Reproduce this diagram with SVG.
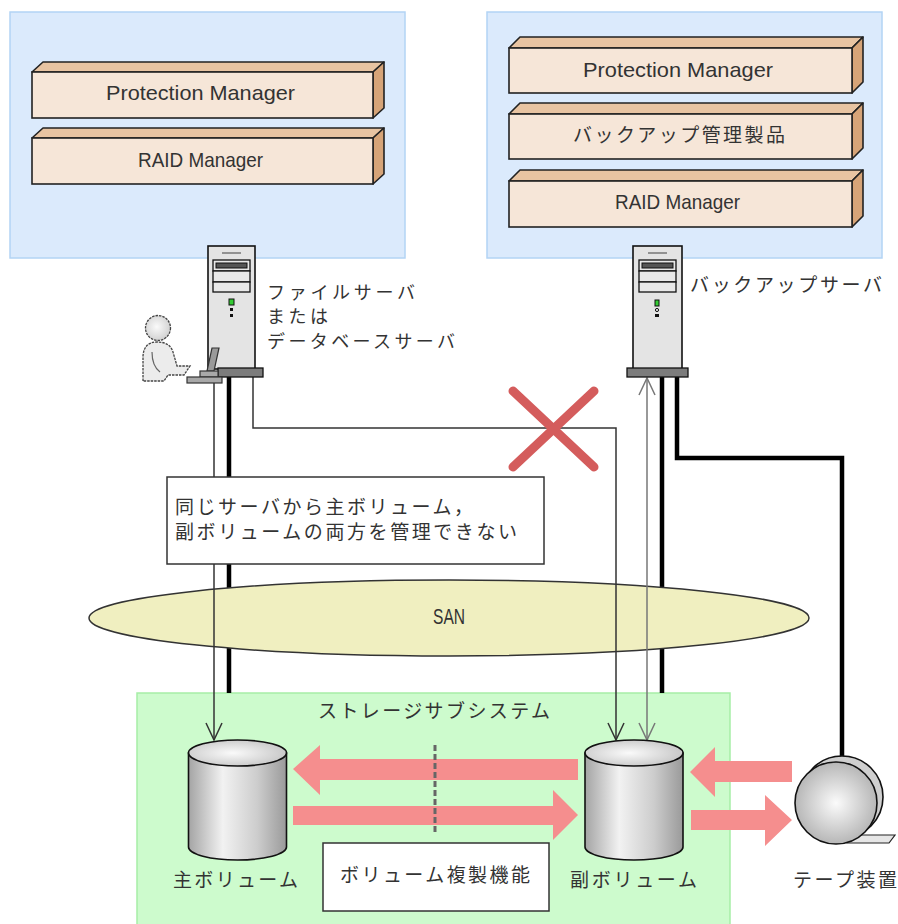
<svg xmlns="http://www.w3.org/2000/svg" width="898" height="924" viewBox="0 0 898 924">
  <defs>
    <style>
      .host { fill: #dbeafc; stroke: #b3d4f5; stroke-width: 1.5; }
      .front { fill: #f6e6d8; stroke: #222; stroke-width: 1.6; }
      .top { fill: #e8c4a2; stroke: #222; stroke-width: 1.6; stroke-linejoin: round; }
      .side { fill: #d6a478; stroke: #222; stroke-width: 1.6; stroke-linejoin: round; }
      .lat { font-family: "Liberation Sans", Arial, sans-serif; font-size: 21px; fill: #333; }
      .san { font-family: "Liberation Sans", Arial, sans-serif; font-size: 22px; fill: #333; }
      .jp { font-family: "Noto Sans CJK JP", "Noto Sans", sans-serif; font-size: 19px; fill: #333; }
      .jp-s { font-family: "Noto Sans CJK JP", "Noto Sans", sans-serif; font-size: 18px; fill: #333; }
      .tower { fill: #e4e4e4; stroke: #111; stroke-width: 1.6; }
      .bay { fill: #e8e8e8; stroke: #111; stroke-width: 1.3; }
      .base { fill: #7c7c7c; stroke: #111; stroke-width: 1.3; }
      .thin { fill: none; stroke: #333; stroke-width: 1.5; }
      .thin-g { fill: none; stroke: #777; stroke-width: 1.5; }
      .thick { fill: none; stroke: #000; stroke-width: 4.5; stroke-linejoin: miter; }
      .copy { fill: #f58e8e; }
      .box { fill: #fff; stroke: #333; stroke-width: 1.5; }
      .cyl { stroke: #111; stroke-width: 1.6; }
    </style>
    <marker id="headDark" viewBox="0 0 20 18" refX="18" refY="9" markerWidth="20" markerHeight="18" markerUnits="userSpaceOnUse" orient="auto-start-reverse">
      <path d="M1,1 L18,9 L1,17" fill="none" stroke="#333" stroke-width="1.5"/>
    </marker>
    <marker id="headGray" viewBox="0 0 20 18" refX="18" refY="9" markerWidth="20" markerHeight="18" markerUnits="userSpaceOnUse" orient="auto-start-reverse">
      <path d="M1,1 L18,9 L1,17" fill="none" stroke="#777" stroke-width="1.5"/>
    </marker>
    <linearGradient id="cylBody" x1="0" y1="0" x2="1" y2="0">
      <stop offset="0" stop-color="#a4a4a4"/>
      <stop offset="0.35" stop-color="#f2f2f2"/>
      <stop offset="0.7" stop-color="#cdcdcd"/>
      <stop offset="1" stop-color="#9a9a9a"/>
    </linearGradient>
    <radialGradient id="cylTop" cx="0.45" cy="0.5" r="0.6">
      <stop offset="0" stop-color="#fafafa"/>
      <stop offset="1" stop-color="#c4c4c4"/>
    </radialGradient>
    <radialGradient id="ball" cx="0.5" cy="0.5" r="0.55">
      <stop offset="0" stop-color="#fbfbfb"/>
      <stop offset="1" stop-color="#b0b0b0"/>
    </radialGradient>
    <radialGradient id="head" cx="0.45" cy="0.45" r="0.6">
      <stop offset="0" stop-color="#fafafa"/>
      <stop offset="1" stop-color="#cfcfcf"/>
    </radialGradient>
  </defs>

  <!-- file / database server host -->
  <g id="host-file">
    <rect class="host" x="10" y="12" width="395" height="246"/>
    <g id="pm-file">
      <polygon class="top" points="32,72 43,62 384,62 373,72"/>
      <polygon class="side" points="373,72 384,62 384,108 373,118"/>
      <rect class="front" x="32" y="72" width="341" height="46"/>
      <text class="lat" x="106" y="100" textLength="189" lengthAdjust="spacingAndGlyphs">Protection Manager</text>
    </g>
    <g id="raid-file">
      <polygon class="top" points="32,138 43,128 384,128 373,138"/>
      <polygon class="side" points="373,138 384,128 384,174 373,184"/>
      <rect class="front" x="32" y="138" width="341" height="46"/>
      <text class="lat" x="138" y="167" textLength="125" lengthAdjust="spacingAndGlyphs">RAID Manager</text>
    </g>
  </g>

  <!-- backup server host -->
  <g id="host-backup">
    <rect class="host" x="487" y="12" width="395" height="246"/>
    <g id="pm-backup">
      <polygon class="top" points="509,48 520,37 863,37 852,48"/>
      <polygon class="side" points="852,48 863,37 863,82 852,93"/>
      <rect class="front" x="509" y="48" width="343" height="45"/>
      <text class="lat" x="583" y="77" textLength="190" lengthAdjust="spacingAndGlyphs">Protection Manager</text>
    </g>
    <g id="backup-product">
      <polygon class="top" points="509,114 520,103 863,103 852,114"/>
      <polygon class="side" points="852,114 863,103 863,148 852,159"/>
      <rect class="front" x="509" y="114" width="343" height="45"/>
      <text class="jp" x="573" y="142" textLength="212">バックアップ管理製品</text>
    </g>
    <g id="raid-backup">
      <polygon class="top" points="509,181 520,170 863,170 852,181"/>
      <polygon class="side" points="852,181 863,170 863,216 852,227"/>
      <rect class="front" x="509" y="181" width="343" height="46"/>
      <text class="lat" x="615" y="209" textLength="125" lengthAdjust="spacingAndGlyphs">RAID Manager</text>
    </g>
  </g>

  <!-- storage subsystem frame -->
  <g id="storage">
    <rect x="137" y="693" width="593" height="240" fill="#cdfbcd" stroke="#a6eea6" stroke-width="1.5"/>
    <text class="jp" x="318" y="718" textLength="232">ストレージサブシステム</text>
  </g>

  <!-- thick links (SAN cabling) -->
  <g id="cables">
    <line class="thick" x1="229" y1="377" x2="229" y2="693"/>
    <line class="thick" x1="662" y1="377" x2="662" y2="693"/>
    <polyline class="thick" points="677,377 677,458 842,458 842,757"/>
  </g>

  <!-- SAN -->
  <g id="san">
    <ellipse cx="449" cy="618" rx="360" ry="38" fill="#f0efc0" stroke="#333" stroke-width="1.5"/>
    <text class="san" x="433" y="624" textLength="32" lengthAdjust="spacingAndGlyphs">SAN</text>
  </g>

  <!-- access paths -->
  <g id="connectors">
    <line class="thin" x1="214" y1="383" x2="214" y2="740" marker-end="url(#headDark)"/>
    <polyline class="thin" points="253,377 253,428 616,428 616,740" marker-end="url(#headDark)"/>
    <line class="thin-g" x1="647" y1="378" x2="647" y2="740" marker-start="url(#headGray)" marker-end="url(#headGray)"/>
  </g>

  <!-- not allowed mark -->
  <g id="deny" stroke="#d45c5c" stroke-width="9" stroke-linecap="round">
    <line x1="513" y1="391" x2="594" y2="467"/>
    <line x1="594" y1="391" x2="513" y2="467"/>
  </g>

  <!-- note -->
  <g id="note">
    <rect class="box" x="167" y="477" width="377" height="87"/>
    <text class="jp" x="175" y="514" textLength="298">同じサーバから主ボリューム，</text>
    <text class="jp" x="175" y="539" textLength="342">副ボリュームの両方を管理できない</text>
  </g>

  <!-- file / database server -->
  <g id="server-file">
    <rect class="tower" x="208" y="246" width="47" height="123"/>
    <line x1="222" y1="253" x2="241" y2="253" stroke="#777" stroke-width="1.5"/>
    <rect class="bay" x="213" y="260" width="37" height="11"/>
    <rect x="216" y="263" width="31" height="5" fill="#555" stroke="#111" stroke-width="1"/>
    <rect class="bay" x="213" y="271" width="37" height="11"/>
    <rect class="bay" x="213" y="282" width="37" height="10"/>
    <rect x="229" y="299" width="5" height="6" fill="#3c3" stroke="#111" stroke-width="1"/>
    <rect x="230" y="308" width="3" height="3" fill="#111"/>
    <rect x="230" y="314" width="3" height="3" fill="#111"/>
    <rect class="base" x="218" y="368" width="45" height="9"/>
    <text class="jp-s" x="267" y="299" textLength="148">ファイルサーバ</text>
    <text class="jp-s" x="267" y="323" textLength="61">または</text>
    <text class="jp-s" x="267" y="348" textLength="188">データベースサーバ</text>
  </g>

  <!-- operator at console -->
  <g id="operator">
    <circle cx="158" cy="328" r="12.5" fill="url(#head)" stroke="#444" stroke-width="1.3" stroke-dasharray="2.5,1"/>
    <path d="M143,381 L143,356 Q144,342 157,342 Q170,342 173,352 L177,366 L190,366 L184,375 L168,375 L164,381 Z" fill="#ececec" stroke="#444" stroke-width="1.3" stroke-dasharray="2.5,1"/>
    <path d="M152,352 Q152,366 160,372" fill="none" stroke="#666" stroke-width="1.2"/>
    <polygon points="212,348 219,348 214,371 207,371" fill="#9a9a9a" stroke="#333" stroke-width="1.2"/>
    <rect x="200" y="371" width="18" height="6" fill="#a8a8a8" stroke="#333" stroke-width="1.2"/>
    <rect x="187" y="377" width="35" height="6" fill="#a8a8a8" stroke="#333" stroke-width="1.2"/>
  </g>

  <!-- backup server -->
  <g id="server-backup">
    <rect class="tower" x="633" y="246" width="49" height="123"/>
    <line x1="648" y1="253" x2="667" y2="253" stroke="#777" stroke-width="1.5"/>
    <rect class="bay" x="639" y="260" width="37" height="11"/>
    <rect x="642" y="263" width="31" height="5" fill="#555" stroke="#111" stroke-width="1"/>
    <rect class="bay" x="639" y="271" width="37" height="11"/>
    <rect class="bay" x="639" y="282" width="37" height="10"/>
    <rect x="655" y="300" width="4" height="6" fill="#3c3" stroke="#111" stroke-width="1"/>
    <circle cx="657" cy="310" r="1.6" fill="none" stroke="#111" stroke-width="1"/>
    <rect x="655" y="314" width="4" height="3" fill="#111"/>
    <rect class="base" x="627" y="368" width="61" height="9"/>
    <text class="jp" x="690" y="292" textLength="192">バックアップサーバ</text>
  </g>

  <!-- replication flows -->
  <g id="copy-flow">
    <polygon class="copy" points="293,769 320,745 320,759 578,759 578,780 320,780 320,795"/>
    <polygon class="copy" points="293,806 553,806 553,790 578,815 553,840 553,825 293,825"/>
    <line x1="435" y1="745" x2="435" y2="833" stroke="#666" stroke-width="3" stroke-dasharray="6,3"/>
    <polygon class="copy" points="690,772 715,747 715,761 792,761 792,782 715,782 715,797"/>
    <polygon class="copy" points="691,810 765,810 765,795 792,820 765,846 765,830 691,830"/>
  </g>

  <!-- primary volume -->
  <g id="vol-primary">
    <path class="cyl" d="M188.5,753 L188.5,847 A49,13 0 0,0 286.5,847 L286.5,753 Z" fill="url(#cylBody)"/>
    <ellipse class="cyl" cx="237.5" cy="753" rx="49" ry="13" fill="url(#cylTop)"/>
    <text class="jp" x="173" y="887" textLength="125">主ボリューム</text>
  </g>

  <!-- secondary volume -->
  <g id="vol-secondary">
    <path class="cyl" d="M585,753 L585,847 A49,13 0 0,0 683,847 L683,753 Z" fill="url(#cylBody)"/>
    <ellipse class="cyl" cx="634" cy="753" rx="49" ry="13" fill="url(#cylTop)"/>
    <text class="jp" x="570" y="887" textLength="127">副ボリューム</text>
  </g>

  <!-- volume replication function -->
  <g id="replication">
    <rect class="box" x="323" y="843" width="226" height="68"/>
    <text class="jp" x="340" y="882" textLength="190">ボリューム複製機能</text>
  </g>

  <!-- tape device -->
  <g id="tape">
    <polygon points="847,835 895,835 889,843 847,843" fill="#e6e6e6" stroke="#222" stroke-width="1.2"/>
    <circle cx="842" cy="797" r="41" fill="#cfcfcf" stroke="#111" stroke-width="1.6"/>
    <circle cx="836" cy="803" r="41" fill="url(#ball)" stroke="#111" stroke-width="1.6"/>
    <text class="jp" x="793" y="887" textLength="104">テープ装置</text>
  </g>
</svg>
